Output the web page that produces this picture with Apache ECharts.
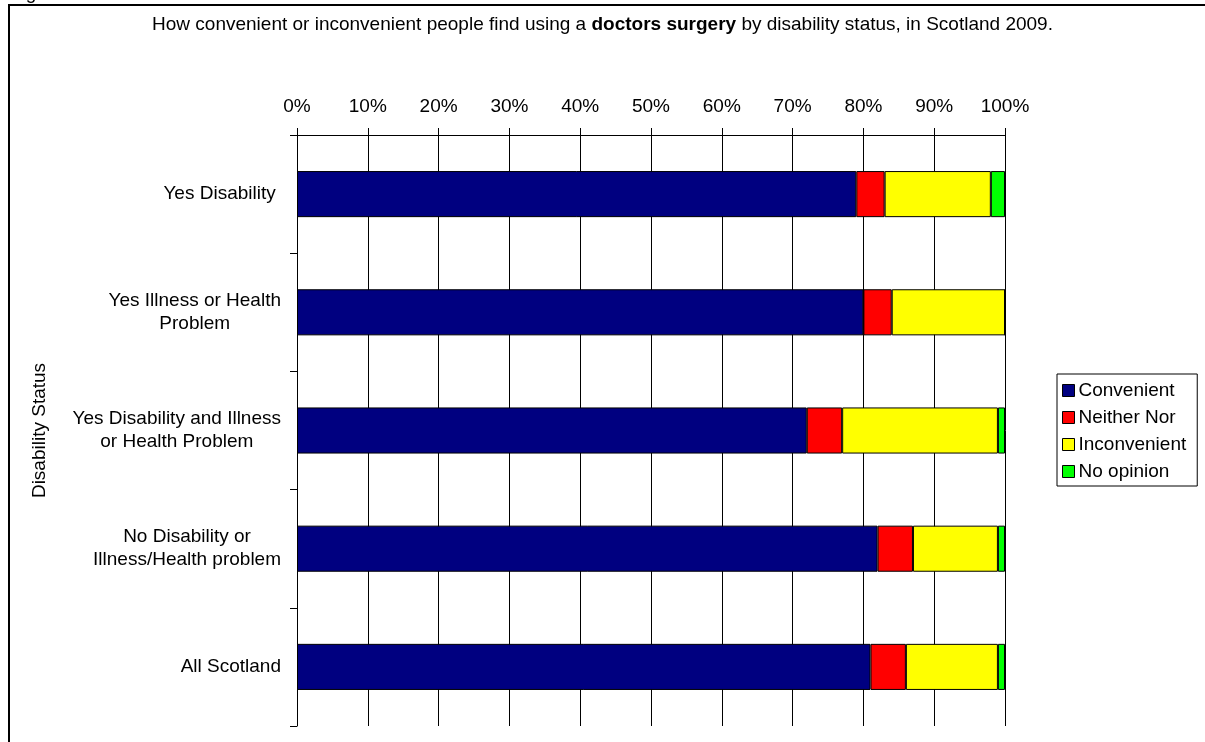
<!DOCTYPE html>
<html>
<head>
<meta charset="utf-8">
<script src="https://cdn.jsdelivr.net/npm/echarts@6/dist/echarts.min.js"></script>
<style>
html,body{margin:0;padding:0;background:#fff;}
#chart{width:1205px;height:742px;}
</style>
</head>
<body>
<div id="chart"></div>
<script>
var categories = ["Yes Disability ", "Yes Illness or Health\nProblem", "Yes Disability and Illness\nor Health Problem", "No Disability or\nIllness/Health problem", "All Scotland"];
var seriesNames = ["Convenient", "Neither Nor", "Inconvenient", "No opinion"];
var convenient = [79, 80, 72, 82, 81];
var neitherNor = [4, 4, 5, 5, 5];
var inconvenient = [15, 16, 22, 12, 13];
var noOpinion = [2, 0, 1, 1, 1];
var xTicks = [0, 10, 20, 30, 40, 50, 60, 70, 80, 90, 100];
var colors = ["#000080", "#FF0000", "#FFFF00", "#00FF00"];

var FONT = "'Liberation Sans', Arial, sans-serif";
var FS = 19;
var chart = echarts.init(document.getElementById('chart'));
var allData = [convenient, neitherNor, inconvenient, noOpinion];

var series = seriesNames.map(function (name, i) {
  return {
    name: name,
    type: 'bar',
    stack: 'total',
    barCategoryGap: '61%',
    data: allData[i],
    itemStyle: { color: colors[i], borderColor: '#000', borderWidth: 1 },
    emphasis: { disabled: true }
  };
});

chart.setOption({
  animation: false,
  backgroundColor: '#fff',
  textStyle: { fontFamily: FONT },
  title: {
    text: 'How convenient or inconvenient people find using a {b|doctors surgery} by disability status, in Scotland 2009.',
    left: 'center',
    top: 10,
    textStyle: {
      fontFamily: FONT, fontSize: FS, fontWeight: 'normal', color: '#000',
      rich: { b: { fontFamily: FONT, fontSize: FS, fontWeight: 'bold', color: '#000' } }
    }
  },
  graphic: [{
    type: 'rect',
    shape: { x: 9, y: 5, width: 1300, height: 800 },
    style: { fill: 'none', stroke: '#000', lineWidth: 2 },
    silent: true,
    z: 100
  }, {
    type: 'text',
    left: 10,
    top: -16,
    style: { text: 'Figure', font: FS + "px 'Liberation Sans', Arial, sans-serif", fill: '#000' },
    silent: true
  }],
  legend: {
    orient: 'vertical',
    left: 1057,
    top: 374,
    padding: [7, 11, 5, 5],
    itemGap: 8,
    itemWidth: 12,
    itemHeight: 12,
    icon: 'rect',
    borderColor: '#000',
    borderWidth: 1,
    backgroundColor: '#fff',
    textStyle: { fontFamily: FONT, fontSize: FS, color: '#000', padding: [0, 0, 0, -1] },
    itemStyle: { borderColor: '#000', borderWidth: 1 },
    data: seriesNames
  },
  grid: { left: 297, right: 200, top: 135, bottom: 16, containLabel: false },
  xAxis: {
    type: 'value',
    position: 'top',
    min: 0,
    max: 100,
    interval: 10,
    axisLine: { show: true, lineStyle: { color: '#000', width: 1 } },
    axisTick: { show: true, inside: false, length: 7, lineStyle: { color: '#000' } },
    splitLine: { show: true, lineStyle: { color: '#000', width: 1 } },
    axisLabel: {
      margin: 19,
      fontFamily: FONT, fontSize: FS, color: '#000',
      formatter: function (v) { return xTicks.indexOf(v) >= 0 ? v + '%' : ''; }
    }
  },
  yAxis: {
    type: 'category',
    inverse: true,
    data: categories,
    name: 'Disability Status',
    nameLocation: 'middle',
    nameGap: 248,
    nameRotate: 90,
    nameTextStyle: { fontFamily: FONT, fontSize: FS, color: '#000' },
    axisLine: { show: true, lineStyle: { color: '#000', width: 1 } },
    axisTick: { show: true, inside: false, length: 7, lineStyle: { color: '#000' } },
    splitLine: { show: false },
    axisLabel: {
      margin: 16,
      fontFamily: FONT, fontSize: FS, color: '#000', lineHeight: 23,
      align: 'right',
      formatter: function (v) {
        return v.split('\n').map(function (l) { return '{c|' + l + '}'; }).join('\n');
      },
      rich: { c: { fontFamily: FONT, fontSize: FS, color: '#000', align: 'center', lineHeight: 23 } }
    }
  },
  series: series
});
</script>
</body>
</html>
